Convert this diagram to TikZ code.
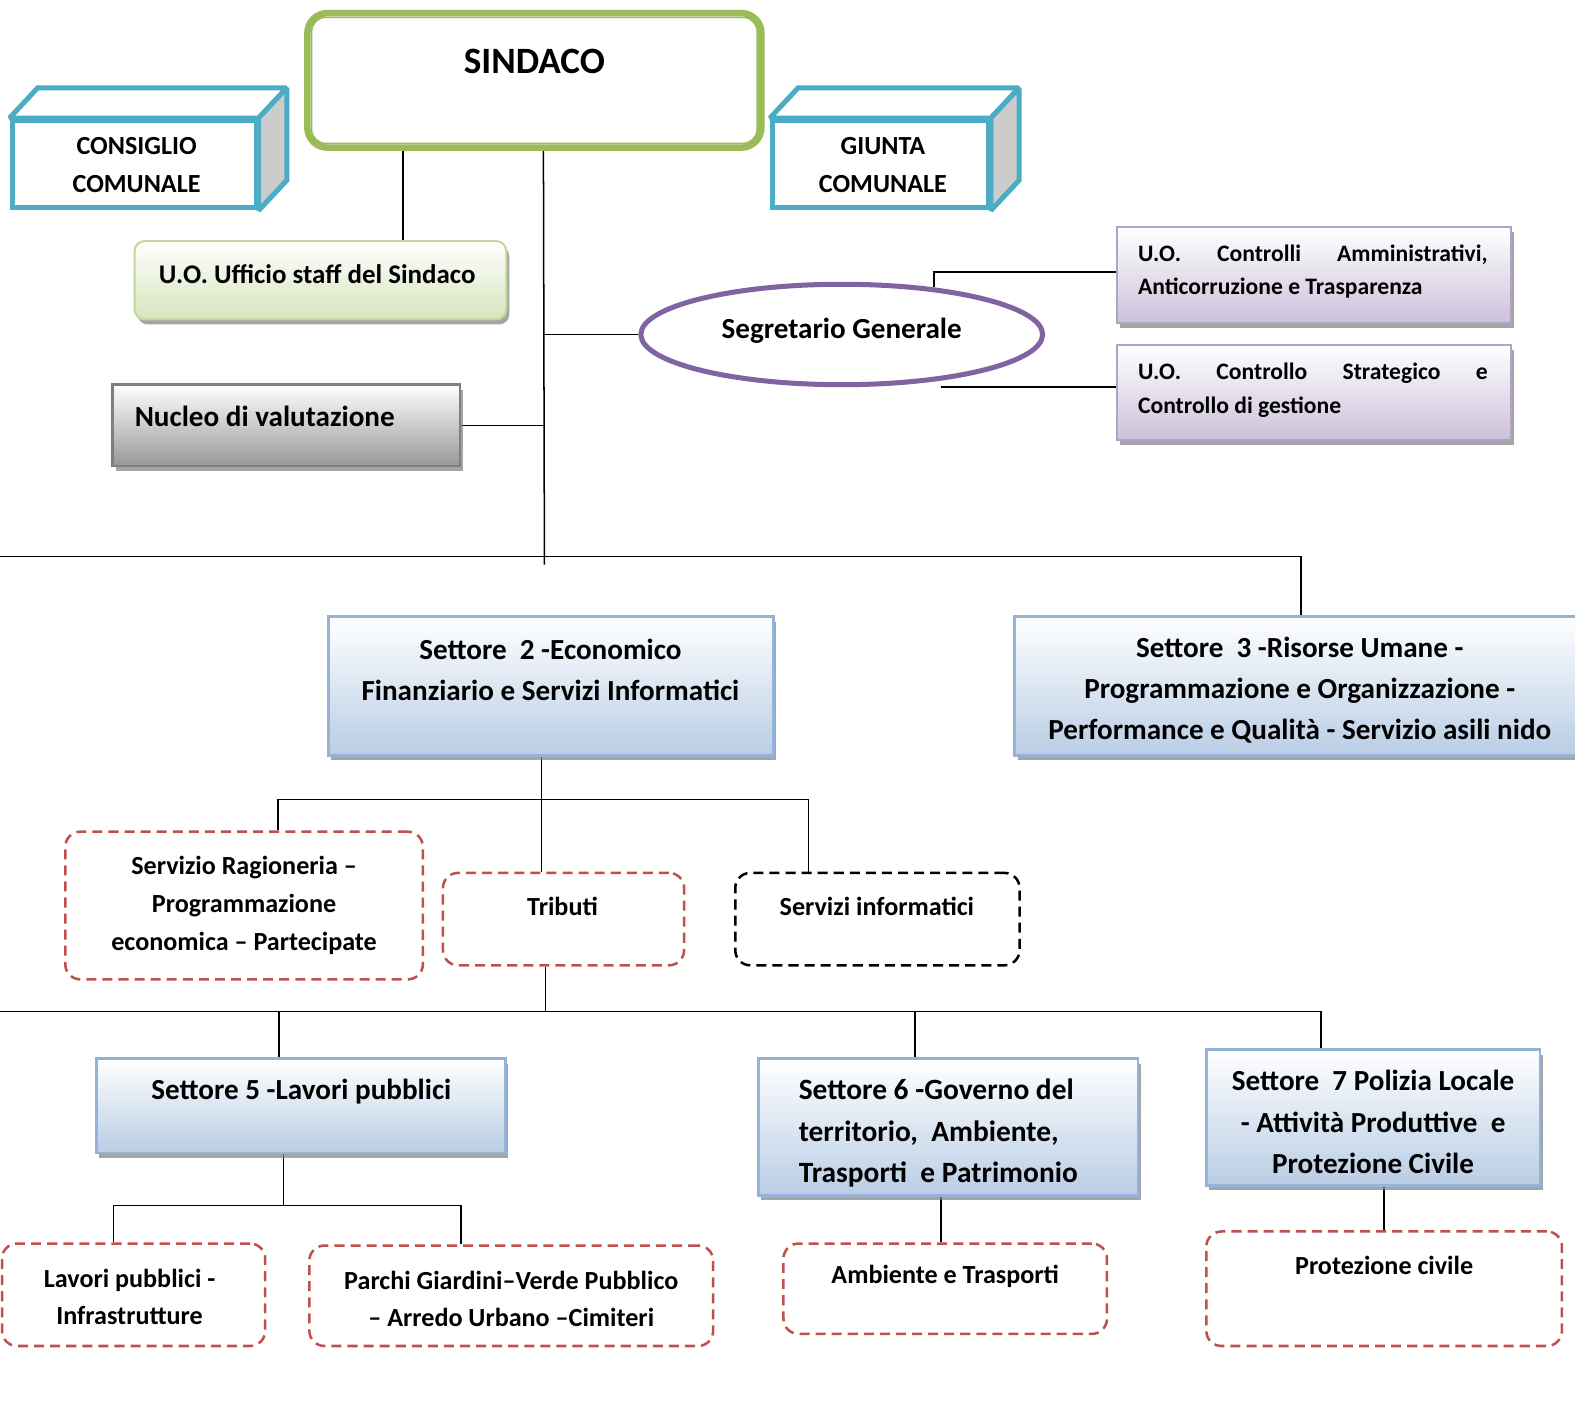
\documentclass[tikz,border=0pt]{standalone}
\usepackage{fontspec}
\setmainfont{Carlito}
\usetikzlibrary{shapes.geometric,shadows,calc}
\pgfdeclarelayer{bgzero}
\pgfdeclarelayer{background}
\pgfsetlayers{bgzero,background,main}
\definecolor{sgreen}{HTML}{9BBB59}
\definecolor{sblue}{HTML}{4BACC6}
\definecolor{spurple}{HTML}{8064A2}
\definecolor{sred}{HTML}{C0504D}
\definecolor{boxblue}{HTML}{95B3D7}
\definecolor{fillblue}{HTML}{B9CDE5}
\definecolor{lpurple}{HTML}{CCC1DA}
\definecolor{lpurpleb}{HTML}{B3A2C7}
\definecolor{lgreen}{HTML}{D7E4BD}
\definecolor{lgreenb}{HTML}{C3D69B}
\definecolor{nucgray}{HTML}{979797}
\definecolor{nucbord}{HTML}{7F7F7F}
\newcommand\myfs[2]{\fontsize{#1}{#2}\selectfont\bfseries}
\tikzset{
  conn/.style={line width=1.5pt, black},
  myshadow/.style={drop shadow={shadow xshift=3pt, shadow yshift=-5pt, fill=gray, opacity=0.7}},
  setbox/.style={draw=boxblue, line width=2.5pt, top color=white, bottom color=fillblue, inner sep=0, myshadow},
  uobox/.style={draw=lpurpleb, line width=2pt, top color=white, bottom color=lpurple, inner sep=0, myshadow},
  staffbox/.style={draw=lgreenb, line width=2pt, rounded corners=10pt, top color=white, bottom color=lgreen, inner sep=0, myshadow},
  nucbox/.style={draw=nucbord, line width=2.5pt, top color=white, bottom color=nucgray, inner sep=0, myshadow},
  redbox/.style={draw=sred, line width=2.5pt, dash pattern=on 10pt off 6pt, rounded corners=15pt, inner sep=0},
  blackbox/.style={draw=black, line width=2.5pt, dash pattern=on 10pt off 6pt, rounded corners=15pt, inner sep=0},
  cubeface/.style={draw=sblue, line width=5pt, fill=white, inner sep=0},
  lbl/.style={inner sep=0, align=center},
}
\begin{document}
\begin{tikzpicture}[x=1pt,y=-1pt]
\useasboundingbox (0,0) rectangle (1568,1407);
\begin{pgfonlayer}{bgzero}
\fill[white] (0,0) rectangle (1568,1407);
\end{pgfonlayer}

% SINDACO
\node[draw=sgreen, line width=6.5pt, rounded corners=20pt, fill=white, minimum width=452, minimum height=134, inner sep=0] (sindaco) at (532,80) {};
\draw[sgreen, line width=1.5pt, rounded corners=14pt] ($(sindaco.north west)+(7.5,7.5)$) rectangle ($(sindaco.south east)+(-7.5,-7.5)$);
\node[lbl, font=\myfs{37}{44}] (sindacot) at (532,61) {SINDACO};

% cubes
\node[cubeface, minimum width=243, minimum height=87] (consiglio) at (133.5,163.5) {};
\node[cubeface, minimum width=215, minimum height=87] (giunta) at (876.5,163.5) {};
\begin{pgfonlayer}{background}
\foreach \c in {consiglio,giunta}{
  \draw[sblue, line width=5pt, fill=white, line join=miter, miter limit=1.5] (\c.north west) -- ++(28,-30) -- ($(\c.north east)+(28,-30)$) -- (\c.north east) -- cycle;
  \draw[sblue, line width=5pt, fill=gray!40, line join=miter, miter limit=1.5] (\c.north east) -- ++(28,-30) -- ($(\c.south east)+(28,-30)$) -- (\c.south east) -- cycle;
}
\end{pgfonlayer}
\node[lbl, font=\myfs{26}{38}] (consiglioT) at (136,164) {CONSIGLIO\\COMUNALE};
\node[lbl, font=\myfs{26}{38}] (giuntaT) at (879,164) {GIUNTA\\COMUNALE};

% staff and nucleo
\node[staffbox, minimum width=370, minimum height=78] (staff) at (319,279) {};
\node[lbl, font=\myfs{26.8}{30}, anchor=west] (staffT) at (158,273) {U.O. Ufficio staff del Sindaco};
\node[nucbox, minimum width=346, minimum height=81] (nucleo) at (285,423.5) {};
\node[lbl, font=\myfs{29}{34}, anchor=west] (nucleoT) at (134,415) {Nucleo di valutazione};

% segretario
\node[ellipse, draw=spurple, line width=5pt, fill=white, minimum width=400, minimum height=100, inner sep=0] (seg) at (838,333) {};
\node[lbl, font=\myfs{29}{34}] (segT) at (838,329) {Segretario Generale};

% U.O. boxes
\node[uobox, minimum width=392, minimum height=96] (uo1) at (1308,274) {};
\node[lbl, font=\myfs{23.5}{33}, align=left] (uo1T) at (1307,270) {\makebox[348pt][s]{U.O. Controlli Amministrativi,}\\Anticorruzione e Trasparenza};
\node[uobox, minimum width=392, minimum height=95] (uo2) at (1308,390.5) {};
\node[lbl, font=\myfs{23.5}{33}, align=left] (uo2T) at (1307,388.5) {\makebox[348pt][s]{U.O. Controllo Strategico e}\\Controllo di gestione};

% settore 2 and 3
\node[setbox, minimum width=443, minimum height=138] (set2) at (548.5,683) {};
\node[lbl, font=\myfs{29}{41}] (set2T) at (548,666.5) {Settore\ \ 2 -Economico\\Finanziario e Servizi Informatici};
\node[setbox, minimum width=570, minimum height=138] (set3) at (1295,683) {};
\node[lbl, font=\myfs{29}{41}] (set3T) at (1294,687) {Settore\ \ 3 -Risorse Umane -\\Programmazione e Organizzazione -\\Performance e Qualità - Servizio asili nido};

% settore 2 offices
\node[redbox, minimum width=356, minimum height=147] (ragion) at (243,901.5) {};
\node[lbl, font=\myfs{26}{37.5}] (ragionT) at (243,901.5) {Servizio Ragioneria –\\Programmazione\\economica – Partecipate};
\node[redbox, minimum width=240, minimum height=92] (trib) at (561,915) {};
\node[lbl, font=\myfs{26}{30}] (tribT) at (560,902) {Tributi};
\node[blackbox, minimum width=283, minimum height=92] (serv) at (873.5,915) {};
\node[lbl, font=\myfs{26}{30}] (servT) at (873,902) {Servizi informatici};

% settori 5 6 7
\node[setbox, minimum width=407, minimum height=94] (set5) at (299.5,1101) {};
\node[lbl, font=\myfs{29}{41}] (set5T) at (300,1087) {Settore 5 -Lavori pubblici};
\node[setbox, minimum width=378, minimum height=136] (set6) at (944,1122) {};
\node[lbl, font=\myfs{29.3}{41}, align=left, anchor=west] (set6T) at (795,1128) {Settore 6 -Governo del\\territorio,\ \ Ambiente,\\Trasporti\ \ e Patrimonio};
\node[setbox, minimum width=332, minimum height=135] (set7) at (1367,1112.5) {};
\node[lbl, font=\myfs{29}{41}] (set7T) at (1367,1117) {Settore\ \ 7 Polizia Locale\\- Attività Produttive\ \ e\\Protezione Civile};

% bottom offices
\node[redbox, minimum width=262, minimum height=102] (lavori) at (133,1289) {};
\node[lbl, font=\myfs{26}{37}] (lavoriT) at (129,1291) {Lavori pubblici -\\Infrastrutture};
\node[redbox, minimum width=402, minimum height=100] (parchi) at (509,1290) {};
\node[lbl, font=\myfs{26}{37}] (parchiT) at (509,1293) {Parchi Giardini–Verde Pubblico\\– Arredo Urbano –Cimiteri};
\node[redbox, minimum width=322, minimum height=90] (amb) at (941,1283) {};
\node[lbl, font=\myfs{26}{30}] (ambT) at (941,1271) {Ambiente e Trasporti};
\node[redbox, minimum width=354, minimum height=114] (prot) at (1378,1283) {};
\node[lbl, font=\myfs{26}{30}] (protT) at (1378,1260) {Protezione civile};

% connectors
\coordinate (trunkend) at (542,562);
\coordinate (bus1) at (0,554);
\coordinate (bus2) at (0,1007);
\begin{pgfonlayer}{background}
\draw[conn] (sindaco.south -| 401,0) -- (staff.north -| 401,0);
\draw[conn] (sindaco.south -| 541,0) -- (trunkend);
\draw[conn] (seg.west) -- (seg.west -| trunkend);
\draw[conn] (nucleo.east) -- (nucleo.east -| trunkend);
\draw[conn] (uo1.west |- 0,271) -| (seg.27);
\draw[conn] (seg.south -| 937,0) -- (uo2.west |- seg.south);
\draw[conn] (bus1) -| (set3.north);
\draw[conn] (set2.south -| 539,0) -- (trib.north -| 539,0);
\draw[conn] (ragion.north -| 277,0) |- (805,796) -- (serv.north -| 805,0);
\draw[conn] (trib.south -| 543,0) -- (543,1007);
\draw[conn] (bus2) -| (set7.north -| 1315,0);
\draw[conn] (set5.north -| 278,0) -- (278,1007);
\draw[conn] (set6.north -| 911,0) -- (911,1007);
\draw[conn] (set5.south -| 282,0) -- (282,1200);
\draw[conn] (lavori.north -| 113,0) |- (459,1200) -- (parchi.north -| 459,0);
\draw[conn] (set6.south -| 937,0) -- (amb.north -| 937,0);
\draw[conn] (set7.south -| 1378,0) -- (prot.north -| 1378,0);
\end{pgfonlayer}
\end{tikzpicture}
\end{document}
